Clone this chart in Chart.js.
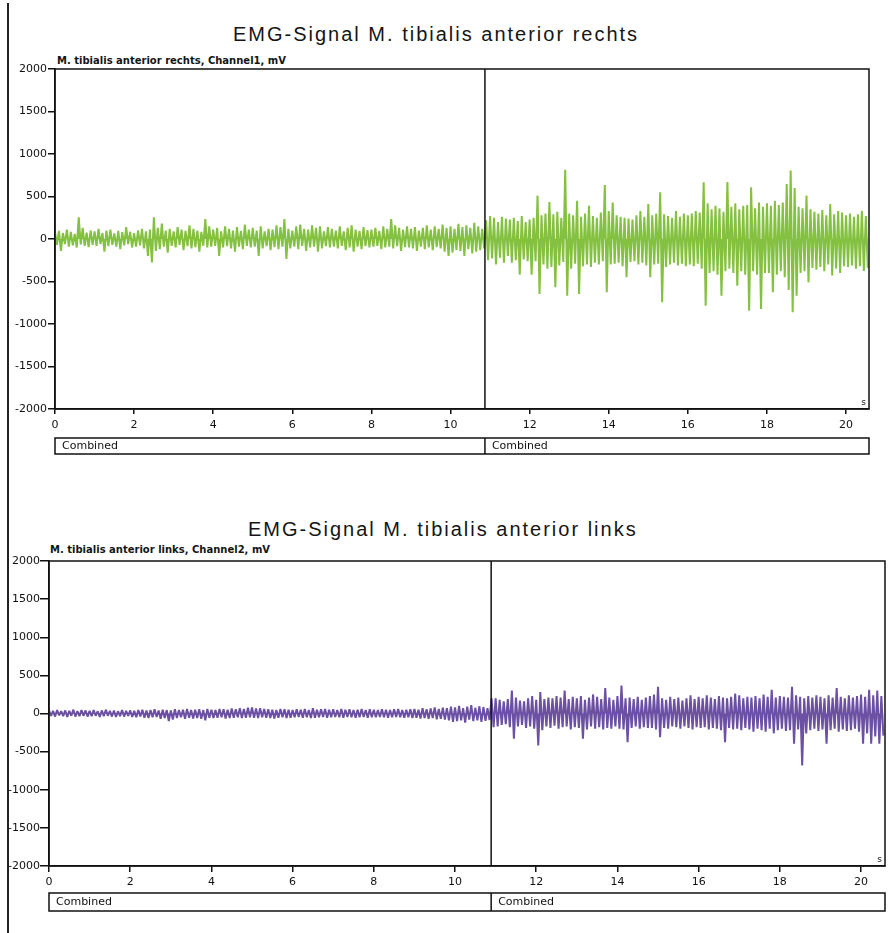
<!DOCTYPE html>
<html><head><meta charset="utf-8">
<script src="https://cdn.jsdelivr.net/npm/chart.js@4/dist/chart.umd.min.js"></script>
<style>
body{margin:0;background:#fff;width:888px;height:933px;position:relative;overflow:hidden}
.t{position:absolute;font-family:"Liberation Sans",Arial,sans-serif;font-size:20px;letter-spacing:2px;color:#151515;white-space:nowrap;line-height:20px}
.s{position:absolute;font-family:"DejaVu Sans",sans-serif;font-weight:bold;font-size:10px;color:#151515;white-space:nowrap;line-height:10px}
canvas{position:absolute;left:0}
#frame{position:absolute;left:7px;top:3px;width:2px;height:930px;background:#222}
</style></head><body>
<div id="frame"></div>
<div class="t" style="left:233px;top:24px">EMG-Signal M. tibialis anterior rechts</div>
<div class="s" style="left:57px;top:56px">M. tibialis anterior rechts, Channel1, mV</div>
<canvas id="c1" width="888" height="470" style="top:0"></canvas>
<div class="t" style="left:248px;top:519px">EMG-Signal M. tibialis anterior links</div>
<div class="s" style="left:50px;top:545px">M. tibialis anterior links, Channel2, mV</div>
<canvas id="c2" width="888" height="463" style="top:470px"></canvas>
<script>
// ---- data (mV), one sample every 0.05 s ----
const SAMPLE_STEP = 0.05;
const yTicks = [-2000,-1500,-1000,-500,0,500,1000,1500,2000];
const xTicks = [0,2,4,6,8,10,12,14,16,18,20];
const segmentLabels = ["Combined","Combined"];
const segmentBoundaryRechts = 10.87;
const segmentBoundaryLinks = 10.89;
const xMaxRechts = 20.58;
const xMaxLinks = 20.59;

const rechtsValues = [
 80,-70, 95,-140, 70,-60, 110,-90, 85,-75, 60,-100, 255,-65, 130,-80, 75,-95, 100,-70,
 90,-80, 120,-60, 70,-150, 100,-85, 110,-70, 65,-90, 95,-120, 80,-75, 140,-60, 85,-100,
 70,-90, 100,-75, 120,-110, 90,-200, 110,-275, 255,-140, 130,-120, 180,-90, 100,-160, 120,-80,
 90,-100, 140,-70, 110,-130, 95,-85, 160,-110, 120,-95, 100,-150, 85,-80, 235,-100, 150,-90,
 110,-80, 130,-200, 90,-100, 150,-85, 120,-110, 100,-150, 140,-90, 95,-120, 170,-80, 110,-100,
 130,-90, 100,-200, 150,-110, 90,-85, 120,-130, 110,-95, 160,-120, 140,-90, 235,-235, 120,-110,
 100,-90, 150,-120, 170,-80, 120,-140, 110,-100, 160,-90, 130,-150, 150,-110, 90,-85, 140,-100,
 120,-90, 100,-110, 150,-80, 90,-130, 130,-100, 160,-150, 110,-90, 95,-120, 140,-85, 105,-100,
 110,-90, 130,-80, 95,-120, 150,-100, 120,-90, 235,-110, 160,-85, 130,-140, 110,-95, 150,-100,
 120,-110, 140,-140, 100,-90, 130,-120, 160,-100, 110,-130, 150,-95, 120,-110, 170,-150, 130,-200,
 150,-160, 120,-130, 180,-140, 140,-200, 160,-120, 130,-170, 190,-150, 150,-130, 120,-110, 220,-250,
 270,-230, 250,-300, 200,-220, 260,-280, 240,-200, 230,-280, 250,-250, 210,-420, 270,-240, 200,-260,
 230,-420, 250,-260, 510,-647, 280,-300, 300,-350, 435,-330, 290,-568, 320,-310, 250,-270, 815,-667,
 300,-350, 280,-290, 450,-647, 260,-320, 300,-300, 392,-330, 270,-280, 250,-300, 310,-260, 635,-627,
 330,-300, 430,-290, 280,-280, 260,-320, 250,-450, 240,-270, 230,-260, 280,-300, 330,-280, 260,-310,
 412,-451, 280,-300, 300,-290, 550,-745, 290,-330, 270,-300, 250,-280, 330,-310, 260,-290, 300,-320,
 280,-300, 300,-320, 330,-290, 310,-350, 667,-785, 420,-400, 350,-380, 390,-420, 360,-667, 320,-380,
 670,-350, 380,-400, 420,-550, 350,-380, 390,-420, 400,-843, 610,-380, 360,-420, 430,-824, 380,-400,
 420,-400, 390,-627, 450,-420, 400,-380, 430,-450, 647,-600, 805,-863, 600,-667, 380,-400, 360,-380,
 510,-510, 350,-340, 320,-360, 300,-330, 340,-380, 280,-300, 412,-430, 290,-350, 330,-400, 310,-320,
 280,-330, 300,-310, 260,-350, 290,-320, 333,-375, 270,-340
];

const linksValues = [
 40,-30, 35,-40, 45,-25, 30,-35, 40,-45, 35,-30, 50,-40, 30,-35, 45,-30, 40,-40,
 35,-35, 45,-30, 30,-45, 40,-35, 50,-30, 35,-40, 40,-45, 30,-35, 45,-40, 35,-30,
 40,-45, 35,-50, 45,-40, 50,-55, 40,-60, 45,-50, 55,-45, 40,-70, 50,-60, 45,-100,
 40,-80, 55,-60, 45,-50, 50,-70, 60,-55, 45,-65, 50,-60, 55,-70, 45,-90, 60,-55,
 50,-60, 45,-55, 60,-50, 55,-65, 50,-60, 65,-55, 55,-50, 70,-60, 60,-55, 75,-50,
 80,-55, 65,-60, 70,-50, 60,-55, 55,-60, 50,-65, 45,-55, 60,-50, 55,-60, 50,-55,
 45,-50, 55,-45, 50,-55, 60,-50, 45,-60, 70,-55, 50,-50, 55,-45, 60,-55, 50,-50,
 55,-45, 45,-50, 60,-55, 50,-45, 55,-50, 45,-55, 50,-50, 60,-45, 45,-55, 55,-50,
 50,-50, 45,-45, 55,-50, 50,-55, 45,-50, 55,-45, 60,-50, 45,-55, 50,-50, 55,-60,
 60,-55, 50,-65, 70,-60, 55,-70, 65,-60, 80,-75, 60,-70, 75,-80, 70,-90, 90,-110,
 80,-100, 100,-90, 70,-120, 90,-80, 110,-100, 75,-90, 95,-110, 85,-95, 70,-85, 200,-180,
 200,-170, 180,-150, 160,-140, 190,-180, 300,-330, 210,-170, 170,-150, 160,-190, 200,-170, 230,-200,
 180,-418, 280,-220, 190,-170, 210,-190, 200,-160, 230,-200, 210,-180, 300,-170, 190,-210, 220,-180,
 200,-190, 230,-330, 180,-210, 210,-170, 250,-200, 220,-180, 190,-210, 335,-190, 210,-200, 180,-170,
 230,-200, 365,-210, 200,-375, 210,-190, 190,-170, 220,-200, 180,-180, 210,-190, 230,-190, 250,-210,
 350,-310, 200,-190, 180,-200, 220,-170, 190,-180, 210,-200, 170,-170, 200,-190, 240,-210, 190,-180,
 220,-190, 200,-180, 240,-210, 210,-190, 190,-200, 230,-220, 210,-375, 200,-190, 220,-210, 260,-200,
 240,-220, 200,-190, 220,-210, 210,-240, 230,-200, 200,-220, 250,-240, 220,-200, 310,-260, 210,-220,
 230,-200, 220,-230, 210,-220, 350,-395, 240,-210, 220,-680, 200,-260, 230,-220, 210,-200, 240,-230,
 220,-210, 200,-395, 240,-220, 210,-200, 335,-240, 220,-210, 200,-230, 240,-220, 210,-200, 230,-240,
 250,-395, 220,-260, 310,-395, 240,-300, 300,-395, 230,-290
];

// ---- drawing ----
const INK = '#111';
const framePlugin = {
  id: 'emgFrame',
  afterDraw(chart, args, o) {
    const {ctx, chartArea: a, scales: {x}} = chart;
    const dx = x.getPixelForValue(o.divider);
    ctx.save();
    ctx.strokeStyle = INK; ctx.lineWidth = 1.5;
    ctx.strokeRect(a.left, a.top, a.right - a.left, a.bottom - a.top);
    ctx.beginPath(); ctx.moveTo(dx, a.top); ctx.lineTo(dx, a.bottom); ctx.stroke();
    const by = a.bottom + o.boxOffset, bh = o.boxHeight;
    ctx.strokeRect(a.left, by, a.right - a.left, bh);
    ctx.beginPath(); ctx.moveTo(dx, by); ctx.lineTo(dx, by + bh); ctx.stroke();
    ctx.fillStyle = INK; ctx.font = '11px "DejaVu Sans"'; ctx.textBaseline = 'middle'; ctx.textAlign = 'left';
    ctx.fillText(o.labels[0], a.left + 7, by + bh / 2);
    ctx.fillText(o.labels[1], dx + 7, by + bh / 2);
    ctx.font = '9px "DejaVu Sans"'; ctx.textAlign = 'right'; ctx.textBaseline = 'bottom';
    ctx.fillText('s', a.right - 3, a.bottom - 2);
    ctx.restore();
  }
};

function makeChart(id, values, color, cfg) {
  const pts = values.map((v, i) => ({x: i * SAMPLE_STEP, y: v}));
  return new Chart(document.getElementById(id), {
    type: 'line',
    data: {datasets: [{data: pts, borderColor: color, backgroundColor: color, borderWidth: 2,
      borderJoinStyle: 'bevel', pointRadius: 0, tension: 0, fill: 'origin'}]},
    options: {
      responsive: false, animation: false, events: [],
      layout: {padding: {left: 0, right: cfg.padRight, top: cfg.padTop, bottom: 0}},
      plugins: {legend: {display: false}, tooltip: {enabled: false}, filler: {propagate: false},
        emgFrame: {divider: cfg.divider, boxOffset: cfg.boxOffset, boxHeight: cfg.boxHeight, labels: segmentLabels}},
      scales: {
        x: {type: 'linear', min: 0, max: cfg.xMax,
          afterFit(s) { s.height = cfg.xH; },
          afterBuildTicks(s) { s.ticks = xTicks.map(v => ({value: v})); },
          ticks: {autoSkip: false, maxRotation: 0, padding: cfg.xPad, color: INK,
            font: {family: 'DejaVu Sans', size: 11}, callback: v => String(v)},
          grid: {drawOnChartArea: false, drawTicks: true, tickLength: cfg.xTick, color: INK, lineWidth: 1.5},
          border: {display: true, color: INK, width: 1.5}},
        y: {min: -2000, max: 2000,
          afterFit(s) { s.width = cfg.yW; },
          afterBuildTicks(s) { s.ticks = yTicks.map(v => ({value: v})); },
          ticks: {autoSkip: false, padding: cfg.yPad, color: INK,
            font: {family: 'DejaVu Sans', size: 11}, callback: v => String(v)},
          grid: {drawOnChartArea: false, drawTicks: true, tickLength: cfg.yTick, color: INK, lineWidth: 1.5},
          border: {display: true, color: INK, width: 1.5}}
      }
    },
    plugins: [framePlugin]
  });
}

makeChart('c1', rechtsValues, '#84c141', {xMax: xMaxRechts, divider: segmentBoundaryRechts,
  padTop: 69, padRight: 19, yW: 55, xH: 61, yTick: 7, yPad: 1, xTick: 5, xPad: 5, boxOffset: 29, boxHeight: 16});
makeChart('c2', linksValues, '#6c50a3', {xMax: xMaxLinks, divider: segmentBoundaryLinks,
  padTop: 91, padRight: 3, yW: 49, xH: 67, yTick: 9, yPad: 0, xTick: 6, xPad: 4, boxOffset: 27, boxHeight: 18});
</script>
</body></html>
